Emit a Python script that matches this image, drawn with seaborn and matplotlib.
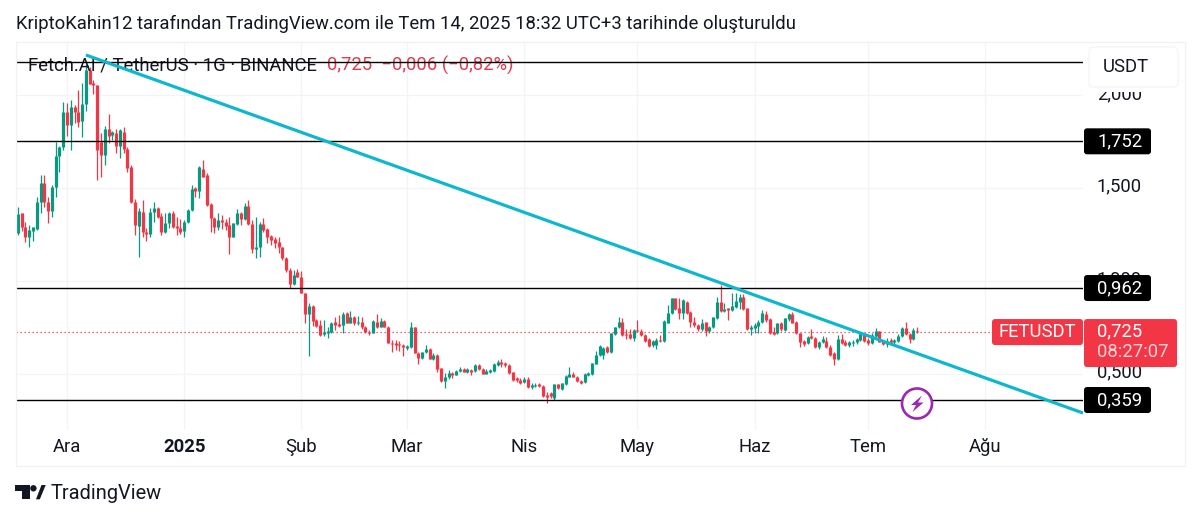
import pandas as pd
import matplotlib
matplotlib.use('Agg')
import matplotlib.pyplot as plt
import seaborn as sns
from matplotlib.patches import Circle, FancyBboxPatch, Polygon, Rectangle
from matplotlib.transforms import ScaledTranslation

# Daily candles
first_day = '2024-11-18'
opens = [
    1.257,1.365,1.289,1.235,1.271,1.280,1.424,1.530,1.427,1.377,
    1.505,1.675,1.720,1.912,1.840,1.939,1.912,1.862,1.952,2.136,
    2.065,2.056,1.751,1.679,1.819,1.786,1.795,1.729,1.804,1.711,
    1.612,1.427,1.298,1.374,1.266,1.253,1.374,1.395,1.352,1.262,
    1.311,1.365,1.296,1.284,1.269,1.316,1.383,1.499,1.487,1.602,
    1.571,1.413,1.338,1.293,1.329,1.320,1.302,1.239,1.305,1.368,
    1.332,1.406,1.307,1.173,1.182,1.307,1.278,1.243,1.225,1.212,
    1.182,1.122,1.059,.984,1.050,1.023,.933,.820,.865,.790,
    .763,.713,.722,.727,.781,.768,.763,.826,.775,.808,
    .772,.781,.754,.727,.722,.781,.754,.786,.754,.668,
    .664,.661,.655,.641,.643,.750,.614,.583,.616,.634,
    .580,.601,.529,.461,.481,.503,.494,.515,.528,.512,
    .520,.515,.549,.526,.501,.512,.515,.549,.565,.556,
    .549,.508,.476,.468,.456,.474,.427,.436,.443,.434,
    .386,.395,.368,.443,.418,.445,.485,.499,.485,.461,
    .454,.494,.499,.553,.601,.601,.643,.616,.714,.750,
    .781,.714,.714,.691,.736,.732,.709,.686,.655,.653,
    .682,.677,.775,.826,.906,.853,.829,.888,.833,.781,
    .763,.739,.777,.732,.750,.799,.885,.840,.853,.844,
    .862,.888,.915,.853,.741,.748,.757,.777,.822,.795,
    .727,.718,.772,.736,.793,.822,.781,.718,.677,.664,
    .704,.693,.643,.669,.678,.646,.610,.578,.686,.673,
    .655,.664,.669,.682,.713,.682,.668,.705,.730,.677,
    .661,.682,.673,.677,.704,.745,.714,.687,.730,
]
closes = [
    1.359,1.289,1.235,1.275,1.289,1.424,1.530,1.427,1.377,1.508,
    1.675,1.724,1.912,1.840,1.939,1.912,1.858,1.952,2.136,2.061,
    2.056,1.706,1.679,1.819,1.783,1.804,1.729,1.813,1.711,1.609,
    1.424,1.302,1.377,1.266,1.253,1.374,1.395,1.347,1.262,1.314,
    1.365,1.293,1.284,1.266,1.320,1.383,1.496,1.487,1.612,1.562,
    1.409,1.338,1.293,1.329,1.316,1.296,1.239,1.311,1.368,1.332,
    1.406,1.307,1.173,1.185,1.305,1.275,1.239,1.221,1.203,1.182,
    1.122,1.059,.985,1.032,1.023,.933,.820,.865,.786,.759,
    .709,.727,.732,.775,.763,.759,.820,.775,.808,.772,
    .781,.750,.723,.718,.784,.750,.784,.754,.668,.661,
    .657,.653,.643,.650,.750,.614,.583,.616,.632,.580,
    .601,.524,.461,.485,.503,.492,.517,.524,.512,.528,
    .512,.549,.524,.499,.515,.520,.553,.565,.553,.546,
    .503,.467,.468,.452,.470,.429,.440,.442,.434,.382,
    .377,.380,.443,.422,.449,.488,.499,.485,.461,.452,
    .497,.503,.556,.601,.650,.637,.616,.718,.750,.781,
    .709,.709,.695,.736,.730,.709,.678,.651,.678,.682,
    .677,.786,.826,.906,.847,.826,.897,.826,.777,.763,
    .739,.775,.732,.754,.804,.885,.840,.849,.844,.865,
    .894,.915,.847,.741,.750,.763,.781,.826,.790,.718,
    .714,.772,.739,.799,.822,.775,.718,.673,.661,.700,
    .693,.646,.673,.686,.643,.601,.578,.686,.664,.655,
    .669,.673,.686,.718,.677,.668,.709,.730,.673,.661,
    .677,.671,.682,.705,.745,.714,.687,.736,.723,
]
highs = [
    1.400,1.368,1.320,1.302,1.293,1.454,1.571,1.571,1.454,1.517,
    1.751,1.727,1.962,1.957,1.975,1.948,2.029,2.065,2.169,2.154,
    2.083,2.056,1.795,1.835,1.900,1.810,1.817,1.817,1.828,1.720,
    1.625,1.440,1.392,1.436,1.284,1.392,1.427,1.400,1.365,1.365,
    1.374,1.379,1.347,1.332,1.329,1.386,1.517,1.508,1.620,1.652,
    1.580,1.422,1.347,1.368,1.356,1.332,1.347,1.314,1.386,1.374,
    1.418,1.436,1.329,1.347,1.320,1.341,1.284,1.248,1.239,1.235,
    1.185,1.131,1.070,1.059,1.062,1.054,.933,.880,.871,.793,
    .790,.790,.750,.781,.804,.817,.835,.835,.838,.811,
    .811,.808,.757,.736,.790,.822,.802,.790,.757,.682,
    .682,.677,.661,.655,.777,.754,.619,.619,.657,.637,
    .610,.605,.533,.503,.520,.512,.520,.535,.533,.533,
    .524,.553,.553,.529,.524,.526,.556,.574,.581,.564,
    .553,.512,.481,.476,.481,.481,.449,.449,.452,.438,
    .404,.404,.445,.445,.452,.494,.538,.510,.488,.467,
    .503,.512,.560,.623,.655,.643,.650,.722,.754,.804,
    .799,.739,.739,.739,.790,.739,.713,.691,.682,.691,
    .709,.790,.871,.910,.910,.910,.901,.892,.836,.804,
    .766,.795,.781,.757,.808,.912,.978,.880,.856,.933,
    .933,.930,.930,.856,.763,.775,.790,.844,.840,.799,
    .754,.775,.777,.802,.829,.835,.784,.722,.682,.705,
    .739,.696,.678,.704,.700,.655,.619,.709,.714,.682,
    .678,.682,.691,.727,.718,.691,.718,.745,.732,.682,
    .691,.691,.686,.714,.750,.777,.722,.745,.754,
]
lows = [
    1.248,1.271,1.212,1.182,1.217,1.275,1.368,1.400,1.311,1.347,
    1.451,1.589,1.706,1.781,1.706,1.849,1.828,1.777,1.917,2.061,
    2.005,1.544,1.562,1.625,1.742,1.760,1.688,1.664,1.688,1.589,
    1.418,1.248,1.128,1.239,1.216,1.239,1.320,1.338,1.248,1.260,
    1.284,1.284,1.248,1.253,1.239,1.314,1.379,1.454,1.445,1.558,
    1.406,1.266,1.260,1.275,1.278,1.275,1.144,1.235,1.302,1.302,
    1.329,1.302,1.149,1.122,1.131,1.266,1.203,1.194,1.176,1.149,
    1.113,1.050,.960,.978,1.020,.933,.775,.598,.757,.754,
    .705,.704,.691,.722,.736,.754,.718,.772,.772,.763,
    .763,.739,.718,.709,.718,.745,.750,.750,.664,.619,
    .628,.625,.598,.628,.637,.610,.551,.580,.610,.578,
    .574,.512,.458,.422,.470,.476,.492,.510,.508,.506,
    .492,.512,.520,.497,.499,.503,.512,.542,.538,.538,
    .499,.463,.458,.445,.449,.425,.416,.427,.427,.377,
    .345,.368,.359,.416,.413,.442,.481,.481,.458,.445,
    .449,.488,.495,.551,.596,.581,.610,.610,.709,.745,
    .705,.686,.689,.678,.727,.704,.671,.646,.643,.634,
    .673,.673,.772,.822,.844,.793,.793,.822,.750,.754,
    .732,.732,.705,.718,.745,.793,.835,.835,.790,.840,
    .853,.847,.844,.736,.709,.718,.722,.772,.781,.714,
    .709,.714,.732,.730,.786,.772,.714,.646,.650,.661,
    .689,.639,.634,.664,.637,.596,.547,.574,.661,.650,
    .643,.650,.661,.678,.669,.655,.661,.700,.669,.655,
    .646,.661,.661,.671,.700,.709,.668,.682,.718,
]

level_prices = [2.179, 1.752, 0.962, 0.359]
level_labels = [None, '1,752', '0,962', '0,359']
trend_dates = ['2024-12-06 00:00', '2025-08-26 22:00']
trend_prices = [2.217, 0.289]
last_price = 0.725

price_ticks = [0.5, 1.0, 1.5, 2.0]
price_tick_labels = ['0,500', '1,000', '1,500', '2,000']
month_dates = ['2024-12-01', '2025-01-01', '2025-02-01', '2025-03-01', '2025-04-01',
               '2025-05-01', '2025-06-01', '2025-07-01', '2025-08-01']
month_labels = ['Ara', '2025', 'Şub', 'Mar', 'Nis', 'May', 'Haz', 'Tem', 'Ağu']

GREEN = '#089981'
RED = '#f23645'
INK = '#131722'
GRID = '#f3f4f6'
FS = 13.3

sns.set_theme(style='white', rc={'axes.grid': True, 'grid.color': GRID, 'grid.linewidth': 0.9})
plt.rcParams['font.family'] = ['Roboto', 'DejaVu Sans']

# Long tables for seaborn: one line per candle for wick and body
candles = pd.DataFrame({'day': pd.date_range(first_day, periods=len(closes)),
                        'open': opens, 'close': closes, 'high': highs, 'low': lows})
candles['candle'] = range(len(candles))
candles['side'] = ['up' if c >= o else 'down' for o, c in zip(opens, closes)]
wicks = candles.melt(id_vars=['day', 'candle', 'side'], value_vars=['high', 'low'], value_name='price')
bodies = candles.melt(id_vars=['day', 'candle', 'side'], value_vars=['open', 'close'], value_name='price')
trend = pd.DataFrame({'day': pd.to_datetime(trend_dates), 'price': trend_prices})
colors = {'up': GREEN, 'down': RED}

fig = plt.figure(figsize=(12, 5.2), dpi=100, facecolor='white')
ax = fig.add_axes([16 / 1200, 1 - 430 / 520, 1067 / 1200, 388 / 520])

sns.lineplot(data=wicks, x='day', y='price', hue='side', units='candle', estimator=None, sort=False,
             palette=colors, linewidth=0.9, legend=False, ax=ax, zorder=2.2, solid_capstyle='butt')
sns.lineplot(data=bodies, x='day', y='price', hue='side', units='candle', estimator=None, sort=False,
             palette=colors, linewidth=2.3, legend=False, ax=ax, zorder=2.3, solid_capstyle='butt')
for price in level_prices:
    ax.axhline(price, color='black', linewidth=1.0, zorder=3)
ax.axhline(last_price, color=RED, linewidth=0.9, linestyle=(0, (1, 2.2)), zorder=1.5)
sns.lineplot(data=trend, x='day', y='price', color='#0db7cc', linewidth=2.3, ax=ax, zorder=4,
             solid_capstyle='butt')

ax.set_xlim(pd.Timestamp('2024-11-17 12:00'), pd.Timestamp('2025-08-26 22:00'))
ax.set_ylim(0.1975, 2.2868)
ax.set_xlabel('')
ax.set_ylabel('')
ax.set_xticks(pd.to_datetime(month_dates))
ax.set_xticklabels(month_labels, fontsize=FS, color=INK)
ax.xaxis.get_ticklabels()[1].set_fontweight('bold')
ax.yaxis.tick_right()
ax.set_yticks(price_ticks)
ax.set_yticklabels(price_tick_labels, fontsize=FS, color=INK, va='center')
ax.tick_params(axis='x', length=0, pad=5.5)
ax.tick_params(axis='y', length=0, pad=10)
for label in ax.get_yticklabels():
    label.set_transform(label.get_transform() + ScaledTranslation(0, 1 / 72, fig.dpi_scale_trans))
sns.despine(ax=ax, left=True, right=True, top=True, bottom=True)

# Overlay in image pixels for the TradingView furniture
over = fig.add_axes([0, 0, 1, 1], zorder=5)
over.set_xlim(0, 1200)
over.set_ylim(520, 0)
over.axis('off')
over.patch.set_alpha(0)


def py(price):
    return 520 - ax.transData.transform((0, price))[1]


def tag(x, y, w, h, color):
    over.add_patch(FancyBboxPatch((x, y), w, h, boxstyle='round,pad=0,rounding_size=3',
                                  fc=color, ec='none'))


over.add_patch(Rectangle((15.5, 41.5), 1169, 424.5, fc='none', ec='#eff1f4', lw=0.9))
over.text(16, 24, 'KriptoKahin12 tarafından TradingView.com ile Tem 14, 2025 18:32 UTC+3 tarihinde oluşturuldu',
          fontsize=FS, color=INK, va='center')
# Legend sits under the level lines, as in the chart
ax.text(28, 65, 'Fetch.AI / TetherUS · 1G · BINANCE', fontsize=FS, color=INK, va='center',
        transform=over.transData, zorder=2.9)
ax.text(327, 65, '0,725  −0,006 (−0,82%)', fontsize=FS, color='#dd3d52', va='center',
        transform=over.transData, zorder=2.9)

# Halo around the unit button hides the top of the 2,000 label
over.add_patch(Rectangle((1085, 44), 97, 47.5, fc='white', ec='none'))
over.add_patch(FancyBboxPatch((1089, 47), 89, 40, boxstyle='round,pad=0,rounding_size=5',
                              fc='white', ec='#f3f4f6', lw=0.8))
over.text(1103, 67, 'USDT', fontsize=FS, color=INK, va='center')

for price, label in zip(level_prices, level_labels):
    if label is None:
        continue
    tag(1084, py(price) - 13, 67, 26, 'black')
    over.text(1097.5, py(price), label, fontsize=FS, color='white', va='center')

y_last = py(last_price)
tag(992, y_last - 13, 91, 26, RED)
over.text(1037.5, y_last, 'FETUSDT', fontsize=FS, color='white', ha='center', va='center')
tag(1084, y_last - 13, 93, 48, RED)
over.text(1097.5, y_last - 1, '0,725', fontsize=FS, color='white', va='center')
over.text(1097.5, y_last + 20, '08:27:07', fontsize=FS, color='#fbd3d7', va='center')

# Lightning badge
over.add_patch(Circle((917, 403.5), 15, fc='white', ec='#9c27b0', lw=1.9))
over.add_patch(Polygon([(922, 395.5), (911, 405), (916, 405), (912.5, 412), (923.5, 402.5), (918, 402.5)],
                       closed=True, fc='#9c27b0', ec='none'))

# TradingView logo
logo = '#131722'
over.add_patch(Polygon([(15.3, 485), (30, 485), (30, 499.3), (21.7, 499.3), (21.7, 491), (15.3, 491)],
                       closed=True, fc=logo, ec='none'))
over.add_patch(Circle((33.4, 488.3), 3.2, fc=logo, ec='none'))
over.add_patch(Polygon([(36, 499.3), (41.5, 485), (45.7, 485), (39.8, 499.3)], closed=True, fc=logo, ec='none'))
over.text(51, 493.5, 'TradingView', fontsize=14.4, color=INK, va='center')

fig.savefig('out.png', dpi=100)
